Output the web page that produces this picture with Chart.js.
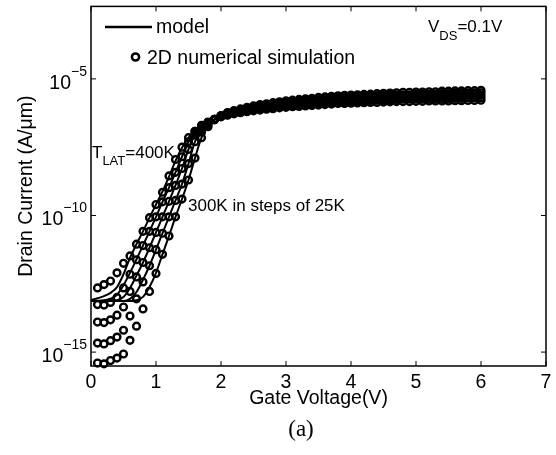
<!DOCTYPE html>
<html>
<head>
<meta charset="utf-8">
<script src="https://cdn.jsdelivr.net/npm/chart.js@4.4.0/dist/chart.umd.min.js"></script>
<style>
  html, body { margin: 0; padding: 0; background: #fff; }
</style>
</head>
<body>
<canvas id="idChart" width="556" height="455"></canvas>
<script>
// Gate voltage of the 2D simulation points (V)
const gateV = [0.1,0.2,0.3,0.4,0.5,0.6,0.7,0.8,0.9,1.0,1.1,1.2,1.3,1.4,1.5,1.6,1.7,1.8,1.9,2.0,
  2.1,2.2,2.3,2.4,2.5,2.6,2.7,2.8,2.9,3.0,3.1,3.2,3.3,3.4,3.5,3.6,3.7,3.8,3.9,4.0,
  4.1,4.2,4.3,4.4,4.5,4.6,4.7,4.8,4.9,5.0,5.1,5.2,5.3,5.4,5.5,5.6,5.7,5.8,5.9,6.0];

// Simulated drain current, read as log10(A/um), one list per lattice temperature
const sim300 = [-15.40,-15.43,-15.31,-15.22,-15.07,-14.57,-14.05,-13.42,-12.78,-12.12,-11.42,-10.75,-10.05,-9.40,-8.70,-7.90,-7.15,-6.75,-6.50,-6.34,
  -6.23,-6.16,-6.10,-6.04,-5.99,-5.94,-5.91,-5.87,-5.84,-5.80,-5.78,-5.75,-5.73,-5.71,-5.68,-5.66,-5.64,-5.62,-5.60,-5.59,
  -5.58,-5.57,-5.56,-5.54,-5.53,-5.52,-5.51,-5.49,-5.49,-5.48,-5.48,-5.47,-5.47,-5.45,-5.45,-5.44,-5.44,-5.43,-5.43,-5.42];
const sim325 = [-14.67,-14.70,-14.58,-14.45,-14.20,-13.68,-13.05,-12.43,-11.84,-11.25,-10.65,-10.05,-9.45,-8.85,-8.10,-7.30,-6.95,-6.68,-6.49,-6.35,
  -6.25,-6.19,-6.13,-6.08,-6.03,-5.99,-5.96,-5.92,-5.89,-5.86,-5.84,-5.81,-5.79,-5.77,-5.75,-5.73,-5.71,-5.69,-5.67,-5.66,
  -5.65,-5.64,-5.63,-5.62,-5.61,-5.60,-5.59,-5.58,-5.58,-5.57,-5.57,-5.56,-5.56,-5.54,-5.54,-5.53,-5.53,-5.52,-5.52,-5.51];
const sim350 = [-13.90,-13.92,-13.82,-13.65,-13.35,-12.78,-12.25,-11.72,-11.18,-10.62,-10.05,-9.48,-8.90,-8.28,-7.58,-7.00,-6.82,-6.63,-6.48,-6.36,
  -6.28,-6.22,-6.17,-6.12,-6.08,-6.04,-6.01,-5.98,-5.95,-5.92,-5.90,-5.88,-5.86,-5.84,-5.82,-5.80,-5.78,-5.76,-5.75,-5.74,
  -5.73,-5.72,-5.71,-5.70,-5.69,-5.68,-5.67,-5.66,-5.66,-5.65,-5.65,-5.64,-5.64,-5.63,-5.63,-5.62,-5.62,-5.61,-5.61,-5.60];
const sim375 = [-13.26,-13.28,-13.18,-13.00,-12.65,-12.15,-11.62,-11.10,-10.58,-10.05,-9.50,-8.98,-8.42,-7.85,-7.30,-6.92,-6.74,-6.60,-6.48,-6.38,
  -6.31,-6.25,-6.21,-6.16,-6.13,-6.09,-6.06,-6.04,-6.01,-5.98,-5.96,-5.95,-5.93,-5.91,-5.89,-5.87,-5.85,-5.83,-5.83,-5.82,
  -5.81,-5.80,-5.79,-5.78,-5.77,-5.76,-5.75,-5.74,-5.74,-5.73,-5.73,-5.72,-5.72,-5.72,-5.72,-5.71,-5.71,-5.70,-5.70,-5.69];
const sim400 = [-12.65,-12.53,-12.40,-12.10,-11.75,-11.48,-11.05,-10.58,-10.08,-9.60,-9.15,-8.55,-7.95,-7.50,-7.15,-6.92,-6.70,-6.58,-6.48,-6.39,
  -6.33,-6.28,-6.24,-6.20,-6.17,-6.14,-6.11,-6.09,-6.06,-6.04,-6.02,-6.01,-5.99,-5.97,-5.96,-5.94,-5.92,-5.90,-5.90,-5.89,
  -5.88,-5.87,-5.86,-5.86,-5.85,-5.84,-5.83,-5.83,-5.83,-5.82,-5.82,-5.81,-5.81,-5.81,-5.81,-5.80,-5.80,-5.79,-5.79,-5.78];

// Model curves (log10 A/um)
const modelV = [0,0.1,0.2,0.3,0.4,0.5,0.6,0.7,0.8,0.9,1.0,1.1,1.2,1.3,1.4,1.5,1.6,1.7,1.8,1.9,2.0,2.5,3.0,3.5,4.0,4.5,5.0,5.5,6.0];
const model300 = [-13.13,-13.13,-13.13,-13.13,-13.13,-13.13,-13.13,-13.10,-12.98,-12.62,-12.10,-11.42,-10.75,-10.05,-9.40,-8.70,-7.90,-7.15,-6.75,-6.50,-6.34,-5.99,-5.80,-5.68,-5.59,-5.53,-5.48,-5.45,-5.42];
const model325 = [-13.13,-13.13,-13.13,-13.13,-13.13,-13.13,-13.05,-12.80,-12.35,-11.84,-11.25,-10.65,-10.05,-9.45,-8.85,-8.10,-7.30,-6.95,-6.68,-6.49,-6.35,-6.03,-5.86,-5.75,-5.66,-5.61,-5.57,-5.54,-5.51];
const model350 = [-13.13,-13.13,-13.13,-13.12,-13.10,-12.98,-12.65,-12.20,-11.72,-11.18,-10.62,-10.05,-9.48,-8.90,-8.28,-7.58,-7.00,-6.82,-6.63,-6.48,-6.36,-6.08,-5.92,-5.82,-5.74,-5.69,-5.65,-5.63,-5.60];
const model375 = [-13.13,-13.12,-13.10,-13.05,-12.90,-12.55,-12.10,-11.60,-11.10,-10.58,-10.05,-9.50,-8.98,-8.42,-7.85,-7.30,-6.92,-6.74,-6.60,-6.48,-6.38,-6.13,-5.98,-5.89,-5.82,-5.77,-5.73,-5.72,-5.69];
const model400 = [-13.10,-13.03,-12.95,-12.83,-12.62,-12.15,-11.55,-11.05,-10.58,-10.08,-9.60,-9.12,-8.58,-8.00,-7.52,-7.15,-6.92,-6.72,-6.58,-6.48,-6.39,-6.17,-6.04,-5.96,-5.89,-5.85,-5.82,-5.81,-5.78];

// Axes
const xTicks = [0,1,2,3,4,5,6,7];
const yTickExps = [-15,-10,-5];
const yMin = 3.1e-16, yMax = 4.5e-3;

const FONT = "'Liberation Sans', Arial, sans-serif";

function toPts(xs, logs) {
    return xs.map((v, i) => ({ x: v, y: Math.pow(10, logs[i]) }));
}

function simSet(label, logs) {
    return {
        label: label,
        data: toPts(gateV, logs),
        showLine: false,
        pointStyle: 'circle',
        pointRadius: 3.4,
        pointBorderWidth: 2.4,
        pointBorderColor: '#000',
        pointBackgroundColor: 'rgba(0,0,0,0)',
        clip: false
    };
}

function modelSet(label, logs) {
    return {
        label: label,
        data: toPts(modelV, logs),
        showLine: true,
        borderColor: '#000',
        borderWidth: 2,
        pointRadius: 0,
        cubicInterpolationMode: 'monotone',
        fill: false
    };
}

// Draws the MATLAB-style box, ticks, labels, legend and notes
const decoPlugin = {
    id: 'deco',
    afterDraw(chart) {
        const ctx = chart.ctx;
        const a = chart.chartArea;
        const xs = chart.scales.x, ys = chart.scales.y;
        ctx.save();
        ctx.strokeStyle = '#000';
        ctx.fillStyle = '#000';
        ctx.lineWidth = 1.5;
        ctx.strokeRect(a.left, a.top, a.right - a.left, a.bottom - a.top);

        // x ticks
        ctx.lineWidth = 1;
        ctx.font = '19.5px ' + FONT;
        ctx.textAlign = 'center';
        ctx.textBaseline = 'alphabetic';
        xTicks.forEach(v => {
            const px = xs.getPixelForValue(v);
            ctx.beginPath();
            ctx.moveTo(px, a.bottom); ctx.lineTo(px, a.bottom - 5);
            ctx.moveTo(px, a.top); ctx.lineTo(px, a.top + 5);
            ctx.stroke();
            ctx.fillText(String(v), px, a.bottom + 22);
        });

        // y ticks
        yTickExps.forEach(e => {
            const py = ys.getPixelForValue(Math.pow(10, e));
            ctx.beginPath();
            ctx.moveTo(a.left, py); ctx.lineTo(a.left + 5, py);
            ctx.moveTo(a.right, py); ctx.lineTo(a.right - 5, py);
            ctx.stroke();
            const sup = '\u2212' + Math.abs(e);
            ctx.font = '14px ' + FONT;
            const supW = ctx.measureText(sup).width;
            ctx.textAlign = 'left';
            ctx.fillText(sup, 87 - supW, py - 3);
            ctx.font = '19.5px ' + FONT;
            const tenW = ctx.measureText('10').width;
            ctx.fillText('10', 87 - supW - tenW, py + 10);
        });

        // axis titles
        ctx.font = '19.5px ' + FONT;
        ctx.textAlign = 'center';
        ctx.fillText('Gate Voltage(V)', (a.left + a.right) / 2, 404);
        ctx.save();
        ctx.translate(32, (a.top + a.bottom) / 2);
        ctx.rotate(-Math.PI / 2);
        ctx.fillText('Drain Current (A/\u03bcm)', 0, 0);
        ctx.restore();
        ctx.font = "23px 'Liberation Serif', 'DejaVu Serif', serif";
        ctx.fillText('(a)', 301, 436);

        // legend
        ctx.lineWidth = 2.5;
        ctx.beginPath();
        ctx.moveTo(105, 27); ctx.lineTo(152, 27);
        ctx.stroke();
        ctx.lineWidth = 2.5;
        ctx.beginPath();
        ctx.arc(135.5, 57, 3.6, 0, Math.PI * 2);
        ctx.stroke();
        ctx.font = '19.5px ' + FONT;
        ctx.textAlign = 'left';
        ctx.fillText('model', 156, 33);
        ctx.fillText('2D numerical simulation', 147, 64);

        // notes
        let x = 92;
        ctx.font = '17px ' + FONT;
        ctx.fillText('T', x, 158); x += ctx.measureText('T').width;
        ctx.font = '13px ' + FONT;
        ctx.fillText('LAT', x, 165); x += ctx.measureText('LAT').width;
        ctx.font = '17px ' + FONT;
        ctx.fillText('=400K', x, 158);
        ctx.fillText('300K in steps of 25K', 188, 211);
        x = 428;
        ctx.fillText('V', x, 32); x += ctx.measureText('V').width;
        ctx.font = '13px ' + FONT;
        ctx.fillText('DS', x, 40); x += ctx.measureText('DS').width;
        ctx.font = '17px ' + FONT;
        ctx.fillText('=0.1V', x, 32);
        ctx.restore();
    }
};

const chart = new Chart(document.getElementById('idChart').getContext('2d'), {
    type: 'scatter',
    data: {
        datasets: [
            modelSet('model 300K', model300),
            modelSet('model 325K', model325),
            modelSet('model 350K', model350),
            modelSet('model 375K', model375),
            modelSet('model 400K', model400),
            simSet('sim 300K', sim300),
            simSet('sim 325K', sim325),
            simSet('sim 350K', sim350),
            simSet('sim 375K', sim375),
            simSet('sim 400K', sim400)
        ]
    },
    options: {
        responsive: false,
        animation: false,
        devicePixelRatio: 1,
        layout: { padding: { left: 91, top: 4, right: 10, bottom: 89 } },
        plugins: {
            legend: { display: false },
            tooltip: { enabled: false }
        },
        scales: {
            x: { type: 'linear', min: 0, max: 7, display: false },
            y: { type: 'logarithmic', min: yMin, max: yMax, display: false }
        }
    },
    plugins: [decoPlugin]
});
</script>
</body>
</html>
